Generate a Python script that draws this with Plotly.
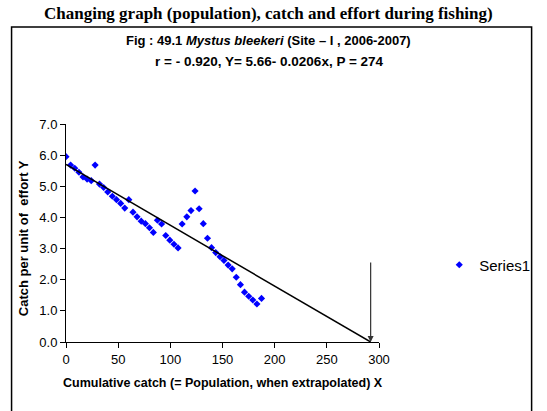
import plotly.graph_objects as go

W, H = 547, 411
L, R, T, B = 66, 159, 124, 69

cum_catch = [0, 4.4, 8.4, 12.4, 16.3, 20.2, 24.2, 27.9, 32.1, 36.1, 40.0, 44.4, 48.4, 52.4,
             56.3, 60.2, 64.2, 68.1, 72.1, 76.1, 80.0, 83.7, 87.6, 91.6, 95.6, 99.5, 103.5,
             107.4, 111.3, 115.8, 119.8, 123.7, 127.6, 131.6, 135.6, 139.5, 143.5, 147.6,
             151.4, 155.4, 159.3, 163.2, 167.2, 171.1, 175.1, 179.0, 183.0, 187.4]
cpue = [5.95, 5.68, 5.58, 5.45, 5.30, 5.23, 5.18, 5.68, 5.07, 4.96, 4.82, 4.68, 4.57, 4.45,
        4.30, 4.57, 4.17, 4.02, 3.88, 3.80, 3.67, 3.52, 3.91, 3.79, 3.42, 3.27, 3.14,
        3.02, 3.79, 4.02, 4.22, 4.85, 4.28, 3.80, 3.33, 3.03, 2.87, 2.74, 2.62, 2.47,
        2.35, 2.08, 1.84, 1.60, 1.47, 1.35, 1.22, 1.40]

# hand-drawn trend line and arrow as they appear on the chart
trend_x = [0, 292]
trend_y = [5.70, 0]
arrow_x = 292
arrow_top = 2.6

x_ticks = [0, 50, 100, 150, 200, 250, 300]
y_ticks = [0.0, 1.0, 2.0, 3.0, 4.0, 5.0, 6.0, 7.0]

# NOTE: in the reference the page heading above the chart is cropped (only the lower
# half of its letters is visible), so the wording below is a best guess, not a transcription.
heading_text = "Changing graph (population), catch and effort during fishing)"

pw, ph = W - L - R, H - T - B
def px(x):
    return (x - L) / pw
def py(y):
    return (H - B - y) / ph

NARROW = "Liberation Sans Narrow, Arial Narrow, Liberation Sans"

fig = go.Figure()
fig.add_trace(go.Scatter(x=cum_catch, y=cpue, mode="markers", name="Series1",
                         marker=dict(color="#0000FF", size=5.5, symbol="diamond")))
fig.add_trace(go.Scatter(x=trend_x, y=trend_y, mode="lines", showlegend=False,
                         line=dict(color="black", width=1.5), hoverinfo="skip"))

fig.add_annotation(x=arrow_x, y=0, ax=arrow_x, ay=arrow_top, xref="x", yref="y", axref="x", ayref="y",
                   showarrow=True, arrowhead=2, arrowsize=1, arrowwidth=1.2, arrowcolor="#333", text="")

fig.add_shape(type="rect", xref="paper", yref="paper", x0=px(10), x1=px(545), y0=py(412), y1=py(27),
              line=dict(color="black", width=1.5), fillcolor="rgba(0,0,0,0)", layer="below")

# heading line of the page above the chart
fig.add_annotation(xref="paper", yref="paper", x=px(274), y=py(25), xanchor="center", yanchor="bottom",
                   showarrow=False,
                   text="<b>" + heading_text + "</b>",
                   font=dict(family="Liberation Serif", size=17, color="black"))

fig.add_annotation(xref="paper", yref="paper", x=px(274), y=py(41), xanchor="center", yanchor="middle",
                   showarrow=False,
                   text="<b>Fig : 49.1 <i>Mystus bleekeri</i> (Site – I , 2006-2007)</b>",
                   font=dict(family=NARROW, size=13, color="black"))
fig.add_annotation(xref="paper", yref="paper", x=px(275), y=py(62), xanchor="center", yanchor="middle",
                   showarrow=False,
                   text="<b>r = - 0.920, Y= 5.66- 0.0206x, P = 274</b>",
                   font=dict(family=NARROW, size=13.5, color="black"))

fig.add_annotation(xref="paper", yref="paper", x=px(228), y=py(383), xanchor="center", yanchor="middle",
                   showarrow=False,
                   text="<b>Cumulative catch (= Population, when extrapolated) X</b>",
                   font=dict(family="Liberation Sans", size=12.5, color="black"))
fig.add_annotation(xref="paper", yref="paper", x=px(22), y=py(238), xanchor="center", yanchor="middle",
                   showarrow=False, textangle=-90,
                   text="<b>Catch per unit of  effort Y</b>",
                   font=dict(family="Liberation Sans", size=13, color="black"))

fig.update_layout(
    width=W, height=H, margin=dict(l=L, r=R, t=T, b=B),
    paper_bgcolor="white", plot_bgcolor="white",
    showlegend=True,
    legend=dict(x=px(450), y=py(265), xanchor="left", yanchor="middle", bgcolor="rgba(0,0,0,0)",
                borderwidth=0,
                font=dict(family=NARROW, size=15, color="black"),
                itemwidth=30),
    xaxis=dict(range=[0, 300], tickvals=x_ticks, ticktext=[str(v) for v in x_ticks],
               showgrid=False, zeroline=False, showline=True, linecolor="black", linewidth=1,
               ticks="outside", ticklen=5, tickcolor="black",
               tickfont=dict(family=NARROW, size=13, color="black")),
    yaxis=dict(range=[0, 7], tickvals=y_ticks, ticktext=[f"{v:.1f}" for v in y_ticks],
               showgrid=False, zeroline=False, showline=True, linecolor="black", linewidth=1,
               ticks="outside", ticklen=5, tickcolor="black",
               tickfont=dict(family=NARROW, size=13, color="black")),
)

fig.write_html("out.html")
